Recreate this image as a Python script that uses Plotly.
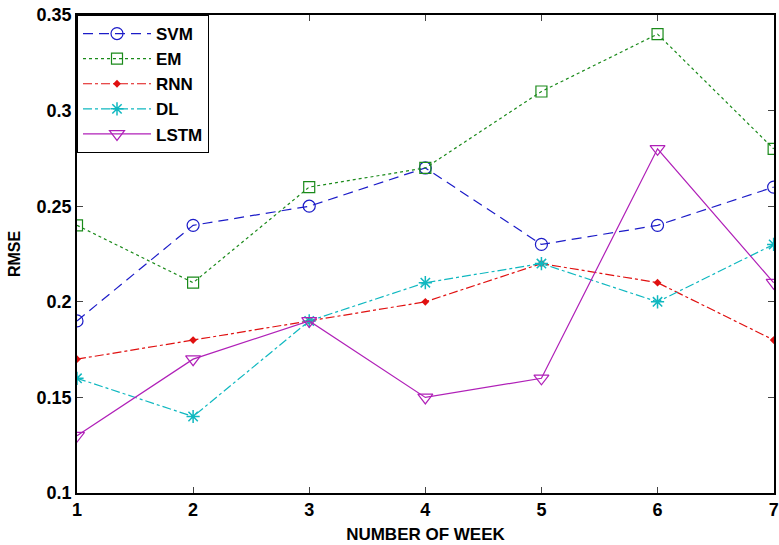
import plotly.graph_objects as go

weeks = [1, 2, 3, 4, 5, 6, 7]
svm = [0.19, 0.24, 0.25, 0.27, 0.23, 0.24, 0.26]
em = [0.24, 0.21, 0.26, 0.27, 0.31, 0.34, 0.28]
rnn = [0.17, 0.18, 0.19, 0.20, 0.22, 0.21, 0.18]
dl = [0.16, 0.14, 0.19, 0.21, 0.22, 0.20, 0.23]
lstm = [0.13, 0.17, 0.19, 0.15, 0.16, 0.28, 0.21]
ytick_vals = [0.1, 0.15, 0.2, 0.25, 0.3, 0.35]
ytick_text = ["0.1", "0.15", "0.2", "0.25", "0.3", "0.35"]
xtick_vals = [1, 2, 3, 4, 5, 6, 7]

fig = go.Figure()
fig.add_trace(go.Scatter(x=weeks, y=svm, name="SVM", mode="lines+markers",
                         line=dict(color="#1c1cc8", width=1.2, dash="10px,6px"),
                         marker=dict(symbol="circle-open", size=12, color="#1c1cc8", line=dict(width=1.2))))
fig.add_trace(go.Scatter(x=weeks, y=em, name="EM", mode="lines+markers",
                         line=dict(color="#1a8a1a", width=1.2, dash="dot"),
                         marker=dict(symbol="square-open", size=11, color="#1a8a1a", line=dict(width=1.2))))
fig.add_trace(go.Scatter(x=weeks, y=rnn, name="RNN", mode="lines+markers",
                         line=dict(color="#e01010", width=1.2, dash="dashdot"),
                         marker=dict(symbol="diamond", size=6, color="#e01010")))
fig.add_trace(go.Scatter(x=weeks, y=dl, name="DL", mode="lines+markers",
                         line=dict(color="#10b8c0", width=1.2, dash="dashdot"),
                         marker=dict(symbol="asterisk-open", size=11, color="#10b8c0", line=dict(width=1.5, color="#10b8c0"))))
fig.add_trace(go.Scatter(x=weeks, y=lstm, name="LSTM", mode="lines+markers",
                         line=dict(color="#b020b8", width=1.2),
                         marker=dict(symbol="triangle-down-open", size=13, color="#b020b8", line=dict(width=1.2))))

axis_font = dict(family="Liberation Sans Narrow, Arial Narrow, sans-serif", size=18, color="black")
fig.update_layout(
    width=779, height=545,
    margin=dict(l=77, r=0, t=15, b=52),
    plot_bgcolor="white", paper_bgcolor="white",
    showlegend=True,
    legend=dict(x=0, y=1, xanchor="left", yanchor="top",
                bgcolor="white", bordercolor="black", borderwidth=1,
                font=dict(family="Liberation Sans, Arial, sans-serif", size=17, color="black", weight="bold"),
                itemwidth=68, tracegroupgap=0),
    xaxis=dict(range=[1, 7.003], tickvals=xtick_vals, ticks="inside", ticklen=6,
               showline=True, linecolor="black", linewidth=1.5, mirror="ticks",
               showgrid=False, zeroline=False, ticklabeloverflow="allow",
               tickfont=dict(axis_font, weight="bold"),
               title=dict(text="NUMBER OF WEEK", font=dict(axis_font, size=17, weight="bold"), standoff=9)),
    yaxis=dict(range=[0.1, 0.35], tickvals=ytick_vals, ticktext=ytick_text, ticks="inside", ticklen=6,
               showline=True, linecolor="black", linewidth=1.5, mirror="ticks",
               showgrid=False, zeroline=False, ticklabeloverflow="allow",
               tickfont=dict(axis_font, weight="bold"),
               title=dict(text="RMSE", font=dict(axis_font, size=16, weight="bold"), standoff=12)),
)
fig.write_html("out.html", config={"displayModeBar": False},
               post_script="document.body.style.margin='0';document.body.style.overflow='hidden';")
